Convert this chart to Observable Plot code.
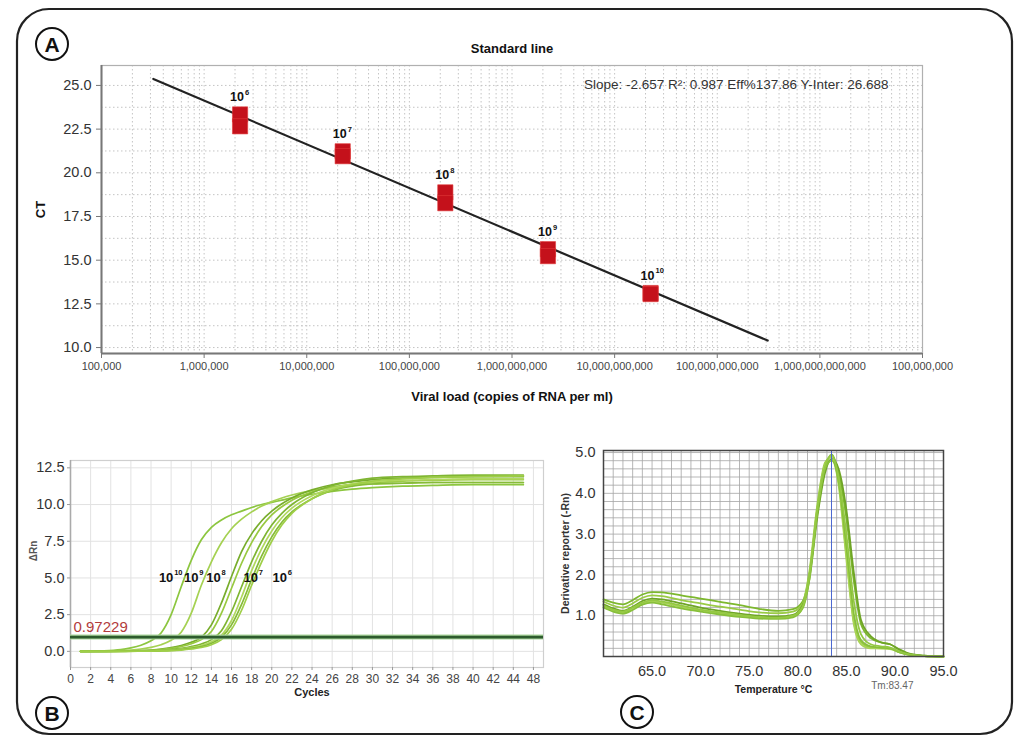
<!DOCTYPE html>
<html>
<head>
<meta charset="utf-8">
<script src="https://cdn.jsdelivr.net/npm/d3@7"></script>
<script src="https://cdn.jsdelivr.net/npm/@observablehq/plot@0.6"></script>
<style>
  body { margin: 0; background: #fff; font-family: "Liberation Sans", Arial, sans-serif; }
  #page { position: relative; width: 1015px; height: 736px; overflow: hidden; background: #fff; }
  .panel { position: absolute; }
</style>
</head>
<body>
<div id="page"></div>
<script>
// ---------------- Panel A: standard line ----------------
const dilutionBase = "10";
const dilutionExponents = ["6", "7", "8", "9", "10"];
const standardCopies = [2.24e6, 2.24e7, 2.24e8, 2.24e9, 2.24e10];
const ctReplicate1 = [23.34, 21.23, 18.88, 15.63, 13.12];
const ctReplicate2 = [22.66, 20.95, 18.26, 15.23, 13.06];
const fitLineCopies = [3.2e5, 3.1e11];
const fitLineCt = [25.37, 10.4];
const xTickValuesA = [1e5, 1e6, 1e7, 1e8, 1e9, 1e10, 1e11, 1e12, 1e13];
const xTickLabelsA = ["100,000", "1,000,000", "10,000,000", "100,000,000", "1,000,000,000",
  "10,000,000,000", "100,000,000,000", "1,000,000,000,000", "100,000,000"];
const yTicksA = [10, 12.5, 15, 17.5, 20, 22.5, 25];
const fitText = "Slope: -2.657 R²: 0.987 Eff%137.86 Y-Inter: 26.688";
const titleA = "Standard line";
const xLabelA = "Viral load (copies of RNA per ml)";
const yLabelA = "CT";

// ---------------- Panel B: amplification plot ----------------
const cyclesB = [1, 3, 5, 6, 7, 8, 9, 10, 11, 12, 13, 14, 15, 16, 17, 18, 19, 20, 21, 22, 24, 26, 28, 30, 33, 36, 40, 45];
const rnB10 = [0, 0.03, 0.12, 0.24, 0.42, 0.72, 1.25, 2.5, 4.4, 6.2, 7.6, 8.45, 8.95, 9.3, 9.55, 9.8, 10.0, 10.15, 10.3, 10.45, 10.7, 10.9, 11.05, 11.15, 11.25, 11.3, 11.35, 11.35];
const rnB9 = [0, 0.01, 0.05, 0.09, 0.16, 0.27, 0.45, 0.75, 1.3, 2.6, 4.5, 6.1, 7.4, 8.35, 9.0, 9.5, 9.9, 10.2, 10.45, 10.65, 10.95, 11.15, 11.3, 11.4, 11.45, 11.5, 11.5, 11.5];
const rnB8a = [0, 0, 0.02, 0.03, 0.05, 0.09, 0.15, 0.25, 0.4, 0.62, 0.95, 1.8, 3.3, 5.1, 6.8, 8.0, 8.9, 9.55, 10.05, 10.45, 11.0, 11.35, 11.55, 11.7, 11.8, 11.85, 11.9, 11.9];
const rnB8b = [0, 0, 0.01, 0.02, 0.04, 0.07, 0.12, 0.2, 0.33, 0.52, 0.8, 1.35, 2.6, 4.3, 6.0, 7.4, 8.5, 9.3, 9.85, 10.3, 10.85, 11.2, 11.4, 11.5, 11.6, 11.65, 11.7, 11.7];
const rnB7a = [0, 0, 0.01, 0.01, 0.02, 0.04, 0.07, 0.12, 0.2, 0.32, 0.5, 0.8, 1.4, 2.7, 4.4, 6.1, 7.5, 8.6, 9.4, 10.0, 10.8, 11.3, 11.6, 11.8, 11.9, 11.95, 12.0, 12.0];
const rnB7b = [0, 0, 0, 0.01, 0.02, 0.03, 0.05, 0.09, 0.15, 0.25, 0.4, 0.65, 1.1, 2.1, 3.7, 5.5, 7.0, 8.2, 9.1, 9.75, 10.6, 11.1, 11.4, 11.55, 11.65, 11.7, 11.75, 11.75];
const rnB6a = [0, 0, 0, 0.01, 0.01, 0.02, 0.04, 0.07, 0.12, 0.2, 0.32, 0.55, 0.95, 1.8, 3.2, 4.9, 6.5, 7.8, 8.8, 9.5, 10.4, 10.95, 11.25, 11.4, 11.45, 11.5, 11.5, 11.5];
const rnB6b = [0, 0, 0, 0, 0.01, 0.02, 0.03, 0.05, 0.09, 0.16, 0.26, 0.45, 0.8, 1.5, 2.8, 4.5, 6.1, 7.5, 8.6, 9.4, 10.4, 11.0, 11.35, 11.6, 11.75, 11.85, 11.9, 11.95];
const curvesB = [rnB10, rnB9, rnB8a, rnB8b, rnB7a, rnB7b, rnB6a, rnB6b];
const threshold = 0.97229;
const curveLabelExponentsB = ["10", "9", "8", "7", "6"];
const curveLabelCyclesB = [9.8, 12.3, 14.5, 18.2, 21.1];
const curveLabelRnB = 5.0;
const xTickValuesB = [0, 2, 4, 6, 8, 10, 12, 14, 16, 18, 20, 22, 24, 26, 28, 30, 32, 34, 36, 38, 40, 42, 44, 46];
const xTickLabelsB = ["0", "2", "4", "6", "8", "10", "12", "14", "16", "18", "20", "22", "24", "26", "28", "30", "32", "34", "36", "38", "40", "42", "44", "48"];
const yTicksB = [0, 2.5, 5, 7.5, 10, 12.5];
const xLabelB = "Cycles";
const yLabelB = "ΔRn";

// ---------------- Panel C: melt curve ----------------
const tempC = [60, 61, 62, 63, 64, 65, 66, 68, 70, 72, 74, 76, 78, 79.5, 80.5, 81.2, 82, 82.8, 83.5, 84.2, 85, 85.8, 86.5, 87.5, 88.5, 89.5, 90.5, 91.5, 93, 95];
const meltC1 = [1.40, 1.32, 1.28, 1.38, 1.52, 1.58, 1.57, 1.50, 1.42, 1.34, 1.26, 1.17, 1.12, 1.16, 1.35, 2.0, 3.5, 4.6, 4.95, 4.5, 3.4, 1.8, 0.8, 0.45, 0.35, 0.3, 0.16, 0.06, 0.02, 0];
const meltC2 = [1.35, 1.25, 1.20, 1.30, 1.44, 1.50, 1.48, 1.38, 1.30, 1.22, 1.15, 1.08, 1.06, 1.10, 1.30, 2.1, 3.7, 4.75, 4.9, 4.3, 2.5, 0.8, 0.35, 0.22, 0.2, 0.2, 0.1, 0.04, 0.01, 0];
const meltC3 = [1.28, 1.18, 1.12, 1.22, 1.36, 1.42, 1.40, 1.30, 1.20, 1.12, 1.05, 1.00, 0.98, 1.02, 1.25, 1.9, 3.4, 4.5, 4.85, 4.6, 3.6, 2.0, 0.9, 0.5, 0.35, 0.3, 0.17, 0.07, 0.02, 0];
const meltC4 = [1.22, 1.13, 1.08, 1.18, 1.30, 1.35, 1.32, 1.22, 1.13, 1.06, 1.00, 0.95, 0.94, 0.98, 1.20, 2.0, 3.6, 4.7, 4.9, 4.2, 2.4, 0.75, 0.3, 0.2, 0.2, 0.18, 0.1, 0.04, 0.01, 0];
const meltC5 = [1.20, 1.10, 1.05, 1.14, 1.27, 1.32, 1.28, 1.18, 1.10, 1.03, 0.97, 0.93, 0.92, 0.96, 1.18, 1.9, 3.5, 4.6, 4.8, 4.3, 2.7, 1.0, 0.4, 0.25, 0.22, 0.2, 0.1, 0.04, 0.01, 0];
const meltC6 = [1.25, 1.15, 1.10, 1.20, 1.32, 1.38, 1.35, 1.25, 1.15, 1.08, 1.02, 0.97, 0.95, 1.00, 1.22, 2.0, 3.6, 4.65, 4.95, 4.4, 3.0, 1.3, 0.55, 0.3, 0.25, 0.22, 0.12, 0.05, 0.01, 0];
const curvesC = [meltC1, meltC2, meltC3, meltC4, meltC5, meltC6];
const tm = 83.47;
const tmLabel = "Tm:83.47";
const xTicksC = [65, 70, 75, 80, 85, 90, 95];
const yTicksC = [1, 2, 3, 4, 5];
const xLabelC = "Temperature °C";
const yLabelC = "Derivative reporter (-Rn)";

// ---------------- styling ----------------
const FONT = "'Liberation Sans', Arial, Helvetica, sans-serif";
const greensB = ["#8cc63f", "#a5d152", "#78ad2c", "#98c940", "#7fb532", "#b0d85e", "#86bb38", "#9fcf48"];
const greensC = ["#7db82e", "#9acb45", "#6fa526", "#a9d356", "#88c03a", "#94c843"];

const page = d3.select("#page");

// outer frame and panel letters
const ov = page.append("svg").attr("class", "panel")
  .attr("width", 1015).attr("height", 736).style("left", "0px").style("top", "0px");
ov.append("rect").attr("x", 17).attr("y", 9).attr("width", 995).attr("height", 725)
  .attr("rx", 32).attr("fill", "none").attr("stroke", "#222").attr("stroke-width", 2.2);
const letters = [{t: "A", x: 52, y: 44}, {t: "B", x: 52, y: 713}, {t: "C", x: 637, y: 712}];
letters.forEach(l => {
  ov.append("circle").attr("cx", l.x).attr("cy", l.y).attr("r", 16)
    .attr("fill", "#fff").attr("stroke", "#111").attr("stroke-width", 2);
  ov.append("text").attr("x", l.x).attr("y", l.y).attr("dy", "0.36em")
    .attr("text-anchor", "middle").attr("font-family", FONT).attr("font-weight", "bold")
    .attr("font-size", 21).attr("fill", "#111").text(l.t);
});

function place(node, left, top) {
  const d = page.append("div").attr("class", "panel").style("left", left + "px").style("top", top + "px");
  d.node().appendChild(node);
}

// ---------------- Plot A ----------------
const ptsA = standardCopies.flatMap((c, i) => [
  {copies: c, ct: ctReplicate1[i]}, {copies: c, ct: ctReplicate2[i]}
]);
const labA = standardCopies.map((c, i) => ({copies: c, ct: Math.max(ctReplicate1[i], ctReplicate2[i]), exp: dilutionExponents[i]}));
const fitA = fitLineCopies.map((c, i) => ({copies: c, ct: fitLineCt[i]}));
const minorA = [];
for (let n = 5; n <= 12; n++) for (let k = 1; k <= 9; k++) minorA.push(k * Math.pow(10, n));
const yGridA = d3.range(10, 26.2, 1.25);

const plotA = Plot.plot({
  width: 1015, height: 420,
  marginLeft: 101, marginRight: 93, marginTop: 65, marginBottom: 67,
  style: {fontFamily: FONT, background: "transparent", overflow: "visible", color: "#333"},
  x: {type: "log", domain: [1e5, 1e13], label: null},
  y: {domain: [9.66, 26.14], label: null},
  marks: [
    Plot.ruleX(minorA, {stroke: "#c4c4c4", strokeDasharray: "1.5,2.5", strokeWidth: 1}),
    Plot.ruleY(yGridA, {stroke: "#c4c4c4", strokeDasharray: "1.5,2.5", strokeWidth: 1}),
    Plot.frame({stroke: "#b0b0b0", strokeWidth: 1.2}),
    Plot.ruleX([1e5], {stroke: "#777", strokeWidth: 2}),
    Plot.ruleY([9.66], {stroke: "#777", strokeWidth: 2}),
    Plot.axisX(xTickValuesA, {tickFormat: d => xTickLabelsA[xTickValuesA.indexOf(d)], fontSize: 11,
      stroke: "#777", fill: "#444", tickSize: 5, tickPadding: 4, label: null}),
    Plot.axisY(yTicksA, {tickFormat: d => d.toFixed(1), fontSize: 14.5, stroke: "#777", fill: "#333",
      tickSize: 5, tickPadding: 5, label: null}),
    Plot.line(fitA, {x: "copies", y: "ct", stroke: "#222", strokeWidth: 2.2}),
    Plot.dot(ptsA, {x: "copies", y: "ct", symbol: "square", r: 8.6, fill: "#c4111b", stroke: "#e23a3a", strokeWidth: 0.6}),
    Plot.text(labA, {x: "copies", y: "ct", text: () => dilutionBase, dx: -3, dy: -17, fontWeight: "bold", fontSize: 12.5, fill: "#111"}),
    Plot.text(labA, {x: "copies", y: "ct", text: "exp", dx: 5, dy: -22, textAnchor: "start", fontWeight: "bold", fontSize: 7.5, fill: "#111"}),
    Plot.text([fitText], {frameAnchor: "top-right", textAnchor: "end", lineAnchor: "middle", dx: -34, dy: 19, fontSize: 13.5, fill: "#333"}),
    Plot.text([titleA], {frameAnchor: "top", textAnchor: "middle", lineAnchor: "middle", dy: -17, fontWeight: "bold", fontSize: 13, fill: "#111"}),
    Plot.text([xLabelA], {frameAnchor: "bottom", textAnchor: "middle", lineAnchor: "middle", dy: 43, fontWeight: "bold", fontSize: 13, fill: "#111"}),
    Plot.text([yLabelA], {frameAnchor: "left", textAnchor: "middle", lineAnchor: "middle", rotate: -90, dx: -61, fontWeight: "bold", fontSize: 13, fill: "#111"})
  ]
});
place(plotA, 0, 0);

// ---------------- Plot B ----------------
const labB = curveLabelExponentsB.map((e, i) => ({cycle: curveLabelCyclesB[i], rn: curveLabelRnB, exp: e}));
const plotB = Plot.plot({
  width: 560, height: 270,
  marginLeft: 70, marginRight: 17, marginTop: 20, marginBottom: 43,
  style: {fontFamily: FONT, background: "transparent", overflow: "visible", color: "#333"},
  x: {domain: [0, 47], label: null},
  y: {domain: [-1.1, 13], label: null},
  marks: [
    Plot.ruleX(xTickValuesB, {stroke: "#e2e2e2", strokeWidth: 1}),
    Plot.ruleY(yTicksB, {stroke: "#e2e2e2", strokeWidth: 1}),
    Plot.frame({stroke: "#cfcfcf", strokeWidth: 1.2}),
    Plot.ruleX([0], {stroke: "#aaa", strokeWidth: 1.5}),
    Plot.axisX(xTickValuesB, {tickFormat: d => xTickLabelsB[xTickValuesB.indexOf(d)], fontSize: 12,
      stroke: "#999", fill: "#444", tickSize: 3, tickPadding: 4, label: null}),
    Plot.axisY(yTicksB, {tickFormat: d => d.toFixed(1), fontSize: 14.5, stroke: "#999", fill: "#333",
      tickSize: 3, tickPadding: 3, label: null}),
    ...curvesB.map((ys, i) => Plot.line(cyclesB.map((c, j) => [c, ys[j]]),
      {stroke: greensB[i], strokeWidth: 1.7, curve: "monotone-x"})),
    Plot.ruleY([threshold], {stroke: "#a9d59b", strokeWidth: 5}),
    Plot.ruleY([threshold], {stroke: "#2d5b2d", strokeWidth: 2.6}),
    Plot.text([String(threshold)], {x: 0, y: threshold, dx: 3, dy: -10, textAnchor: "start", lineAnchor: "middle", fontSize: 15, fill: "#b23b3b"}),
    Plot.text(labB, {x: "cycle", y: "rn", text: () => "10", dx: -3, fontWeight: "bold", fontSize: 13, fill: "#111"}),
    Plot.text(labB, {x: "cycle", y: "rn", text: "exp", dx: 5, dy: -5, textAnchor: "start", fontWeight: "bold", fontSize: 7.5, fill: "#111"}),
    Plot.text([xLabelB], {frameAnchor: "bottom", textAnchor: "middle", lineAnchor: "middle", dx: 5, dy: 25, fontWeight: "bold", fontSize: 11, fill: "#222"}),
    Plot.text([yLabelB], {frameAnchor: "left", textAnchor: "middle", lineAnchor: "middle", rotate: -90, dx: -37, dy: -13, fontWeight: "bold", fontSize: 10, fill: "#555"})
  ]
});
place(plotB, 0, 440);

// ---------------- Plot C ----------------
const plotC = Plot.plot({
  width: 475, height: 290,
  marginLeft: 63, marginRight: 72, marginTop: 20, marginBottom: 64,
  style: {fontFamily: FONT, background: "transparent", overflow: "visible", color: "#333"},
  x: {domain: [60, 95], label: null},
  y: {domain: [0, 5.05], label: null},
  marks: [
    Plot.ruleX(d3.range(61, 95, 1), {stroke: "#a4a4a4", strokeWidth: 0.8}),
    Plot.ruleY(d3.range(0.2, 5.05, 0.2), {stroke: "#a4a4a4", strokeWidth: 0.8}),
    ...curvesC.map((ys, i) => Plot.line(tempC.map((t, j) => [t, ys[j]]),
      {stroke: greensC[i], strokeWidth: 1.8, curve: "monotone-x"})),
    Plot.ruleX([tm], {stroke: "#4a68d0", strokeWidth: 1}),
    Plot.frame({stroke: "#444", strokeWidth: 1.5}),
    Plot.axisX(xTicksC, {tickFormat: d => d.toFixed(1), fontSize: 14.5, fill: "#333", tickSize: 0, tickPadding: 9, label: null}),
    Plot.axisY(yTicksC, {tickFormat: d => d.toFixed(1), fontSize: 14.5, fill: "#333", tickSize: 0, tickPadding: 8, label: null}),
    Plot.text([tmLabel], {frameAnchor: "bottom-right", textAnchor: "end", lineAnchor: "middle", dx: -30, dy: 29, fontSize: 10, fill: "#666"}),
    Plot.text([xLabelC], {frameAnchor: "bottom", textAnchor: "middle", lineAnchor: "middle", dy: 33, fontWeight: "bold", fontSize: 10.5, fill: "#222"}),
    Plot.text([yLabelC], {frameAnchor: "left", textAnchor: "middle", lineAnchor: "middle", rotate: -90, dx: -38, fontWeight: "bold", fontSize: 10.5, fill: "#333"})
  ]
});
place(plotC, 540, 430);
</script>
</body>
</html>
